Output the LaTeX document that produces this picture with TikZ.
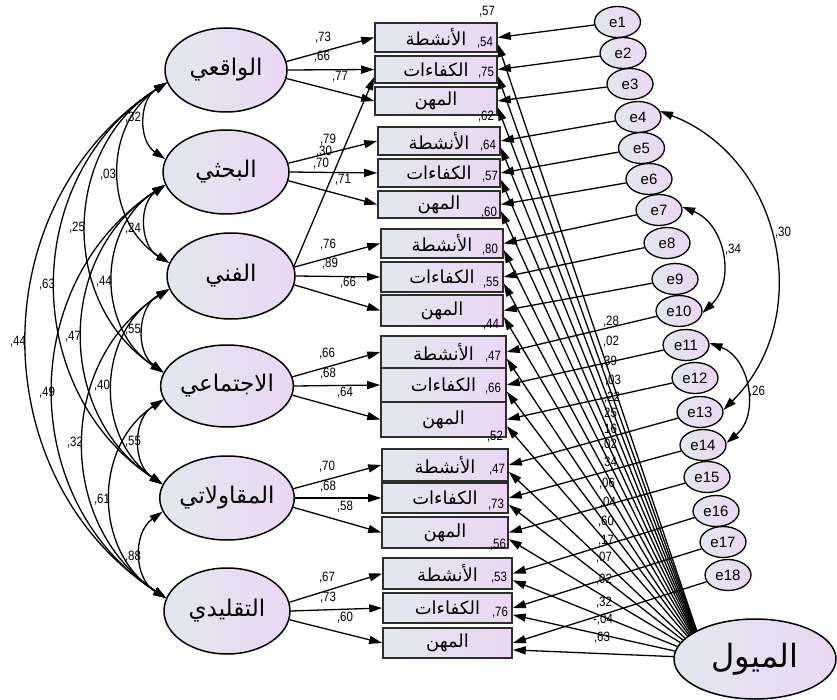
\documentclass[tikz,border=0pt]{standalone}
\usepackage{fontspec}
\TeXXeTstate=1
\newfontfamily\arabicfont[Script=Arabic]{DejaVu Sans}
\newfontfamily\numf[FakeStretch=0.85]{Liberation Sans}
\newfontfamily\efont{Liberation Sans}
\usetikzlibrary{arrows.meta,backgrounds,shapes.geometric}
\definecolor{shL}{RGB}{226,231,239}
\definecolor{shR}{RGB}{236,214,243}
\definecolor{boxline}{RGB}{45,45,45}
\begin{document}
\begin{tikzpicture}[x=1pt,y=-1pt,
  lat/.style={ellipse, draw=black, line width=1.5pt, left color=shL, right color=shR,
    minimum width=126pt, minimum height=84pt, inner sep=0pt,
    font=\arabicfont\fontsize{23}{26}\selectfont},
  meth/.style={ellipse, draw=black, line width=1.5pt, left color=shL, right color=shR,
    minimum width=162pt, minimum height=80pt, inner sep=0pt,
    font=\arabicfont\fontsize{32}{36}\selectfont},
  obs/.style={rectangle, draw=boxline, line width=1.6pt, left color=shL, right color=shR,
    inner sep=0pt, font=\arabicfont\fontsize{18}{20}\selectfont},
  err/.style={ellipse, draw=black, line width=1.3pt, left color=shL, right color=shR,
    minimum width=46pt, minimum height=31pt, inner sep=0pt, font=\efont\fontsize{15}{17}\selectfont},
  num/.style={inner sep=0pt, font=\numf\fontsize{13.5}{15}\selectfont},
  arr/.style={-{Triangle[length=13pt,width=8pt]}, line width=1.3pt},
  cov/.style={{Triangle[length=13pt,width=8pt]}-{Triangle[length=13pt,width=8pt]}, line width=1.3pt}
]
\useasboundingbox (0,0) rectangle (837,700);

% latent factors
\node[lat, minimum width=122pt] (L1) at (226,70) {\beginR الواقعي\endR};
\node[lat] (L2) at (226,172) {\beginR البحثي\endR};
\node[lat, minimum width=128pt, minimum height=86pt] (L3) at (231,276) {\beginR الفني\endR};
\node[lat, minimum width=128pt, minimum height=82pt] (L4) at (227,386) {\beginR الاجتماعي\endR};
\node[lat, minimum width=128pt] (L5) at (227,498) {\beginR المقاولاتي\endR};
\node[lat, minimum height=86pt] (L6) at (227,611) {\beginR التقليدي\endR};

% method factor
\node[meth] (M) at (755,659) {\beginR الميول\endR};
\coordinate (F) at (706,658);

% observed boxes
\node[obs, minimum width=122pt, minimum height=29pt] (b1) at (436,37.5) {\beginR الأنشطة\endR};
\node[obs, minimum width=122pt, minimum height=27pt] (b2) at (436,69.5) {\beginR الكفاءات\endR};
\node[obs, minimum width=122pt, minimum height=28pt] (b3) at (436,101) {\beginR المهن\endR};
\node[obs, minimum width=122pt, minimum height=28pt] (b4) at (439,141) {\beginR الأنشطة\endR};
\node[obs, minimum width=122pt, minimum height=28pt] (b5) at (439,173) {\beginR الكفاءات\endR};
\node[obs, minimum width=122pt, minimum height=27pt] (b6) at (439,204.5) {\beginR المهن\endR};
\node[obs, minimum width=122pt, minimum height=29pt] (b7) at (442,243.5) {\beginR الأنشطة\endR};
\node[obs, minimum width=122pt, minimum height=30pt] (b8) at (442,277) {\beginR الكفاءات\endR};
\node[obs, minimum width=122pt, minimum height=31pt] (b9) at (442,310.5) {\beginR المهن\endR};
\node[obs, minimum width=125pt, minimum height=32pt] (b10) at (443.5,352) {\beginR الأنشطة\endR};
\node[obs, minimum width=125pt, minimum height=34pt] (b11) at (443.5,385) {\beginR الكفاءات\endR};
\node[obs, minimum width=125pt, minimum height=35pt] (b12) at (443.5,419.5) {\beginR المهن\endR};
\node[obs, minimum width=126pt, minimum height=32pt] (b13) at (445,465) {\beginR الأنشطة\endR};
\node[obs, minimum width=126pt, minimum height=30pt] (b14) at (445,498) {\beginR الكفاءات\endR};
\node[obs, minimum width=126pt, minimum height=31pt] (b15) at (445,532.5) {\beginR المهن\endR};
\node[obs, minimum width=129pt, minimum height=31pt] (b16) at (447.5,573.5) {\beginR الأنشطة\endR};
\node[obs, minimum width=129pt, minimum height=30pt] (b17) at (447.5,608) {\beginR الكفاءات\endR};
\node[obs, minimum width=129pt, minimum height=30pt] (b18) at (447.5,643) {\beginR المهن\endR};

% error terms
\node[err] (e1) at (617.5,22) {e1};
\node[err] (e2) at (623,53) {e2};
\node[err] (e3) at (630,84) {e3};
\node[err] (e4) at (638,117) {e4};
\node[err] (e5) at (641.5,148) {e5};
\node[err] (e6) at (649,179) {e6};
\node[err] (e7) at (659,210) {e7};
\node[err] (e8) at (667,243) {e8};
\node[err] (e9) at (675,279) {e9};
\node[err] (e10) at (679,311) {e10};
\node[err] (e11) at (686,345) {e11};
\node[err] (e12) at (695,378) {e12};
\node[err] (e13) at (700,412) {e13};
\node[err] (e14) at (703,445) {e14};
\node[err] (e15) at (707,477) {e15};
\node[err] (e16) at (716,511) {e16};
\node[err] (e17) at (723,542) {e17};
\node[err] (e18) at (728,575) {e18};

\begin{scope}[on background layer]
% method factor paths
\foreach \k in {1,...,18} {\draw[arr] (F) -- (b\k.-6);}
\end{scope}

% error paths
\foreach \k in {1,...,18} {\draw[arr] (e\k) -- (b\k.east);}

% loadings
\draw[arr] (L1.8) -- (b1.west);
\draw[arr] (L1.0) -- (b2.west);
\draw[arr] (L1.-8) -- (b3.west);
\draw[arr] (L2.8) -- (b4.west);
\draw[arr] (L2.0) -- (b5.west);
\draw[arr] (L2.-8) -- (b6.west);
\draw[arr] (L3.8) -- (b7.west);
\draw[arr] (L3.0) -- (b8.west);
\draw[arr] (L3.-8) -- (b9.west);
\draw[arr] (L4.8) -- (b10.west);
\draw[arr] (L4.0) -- (b11.west);
\draw[arr] (L4.-8) -- (b12.west);
\draw[arr] (L5.8) -- (b13.west);
\draw[arr] (L5.0) -- (b14.west);
\draw[arr] (L5.-8) -- (b15.west);
\draw[arr] (L6.8) -- (b16.west);
\draw[arr] (L6.0) -- (b17.west);
\draw[arr] (L6.-8) -- (b18.west);
\draw[arr] (L3.9) -- (b2.187);

% factor covariances
\foreach \i/\j in {1/2,1/3,1/4,1/5,1/6,2/3,2/4,2/5,2/6,3/4,3/5,3/6,4/5,4/6,5/6}
  {\draw[cov] (L\i.192) to[bend right=57, looseness=1.1] (L\j.168);}

% error covariances
\draw[cov] (e4.15) to[bend left=57, looseness=1.1] (e13.5);
\draw[cov] (e7.8) to[bend left=57, looseness=1.1] (e10.-5);
\draw[cov] (e11.5) to[bend left=60, looseness=1.1] (e14.5);

% loading labels
\node[num] (t1) at (323,38) {,73};
\node[num] (t2) at (322,57) {,66};
\node[num] (t3) at (340,77) {,77};
\node[num] (t4) at (328,140) {,79};
\node[num] (t5) at (321,164) {,70};
\node[num] (t6) at (324,152) {,30};
\node[num] (t7) at (343,180) {,71};
\node[num] (t8) at (328,245) {,76};
\node[num] (t9) at (330,264) {,89};
\node[num] (t10) at (348,283) {,66};
\node[num] (t11) at (327,354) {,66};
\node[num] (t12) at (328,374) {,68};
\node[num] (t13) at (345,393) {,64};
\node[num] (t14) at (327,467) {,70};
\node[num] (t15) at (328,487) {,68};
\node[num] (t16) at (345,507) {,58};
\node[num] (t17) at (327,578) {,67};
\node[num] (t18) at (328,598) {,73};
\node[num] (t19) at (345,618) {,60};

% covariance labels (left)
\node[num] (c12) at (133,118) {,32};
\node[num] (c13) at (108,175) {,03};
\node[num] (c14) at (77,228) {,25};
\node[num] (c15) at (47,285) {,63};
\node[num] (c16) at (18,342) {,44};
\node[num] (c23) at (133,229) {,24};
\node[num] (c24) at (104,282) {,44};
\node[num] (c25) at (73,337) {,47};
\node[num] (c26) at (47,393) {,49};
\node[num] (c34) at (133,330) {,55};
\node[num] (c35) at (102,386) {,40};
\node[num] (c36) at (75,443) {,32};
\node[num] (c45) at (133,442) {,55};
\node[num] (c46) at (102,500) {,61};
\node[num] (c56) at (133,557) {,88};

% covariance labels (right)
\node[num] (r1) at (783,233) {,30};
\node[num] (r2) at (733,250) {,34};
\node[num] (r3) at (757,392) {,26};

% squared multiple correlations
\node[num] (s1) at (487,12) {,57};
\node[num] (s2) at (485,43) {,54};
\node[num] (s3) at (486,73) {,75};
\node[num] (s4) at (486,117) {,62};
\node[num] (s5) at (488,146) {,64};
\node[num] (s6) at (490,177) {,57};
\node[num] (s7) at (489,213) {,60};
\node[num] (s8) at (490,250) {,80};
\node[num] (s9) at (491,283) {,55};
\node[num] (s10) at (491,325) {,44};
\node[num] (s11) at (493,357) {,47};
\node[num] (s12) at (493,389) {,66};
\node[num] (s13) at (495,437) {,52};
\node[num] (s14) at (497,470) {,47};
\node[num] (s15) at (496,505) {,73};
\node[num] (s16) at (498,545) {,56};
\node[num] (s17) at (499,578) {,53};
\node[num] (s18) at (500,613) {,76};

% method loadings
\node[num] (m1) at (611,322) {,28};
\node[num] (m2) at (611,342) {,02};
\node[num] (m3) at (609,362) {,39};
\node[num] (m4) at (613,381) {,03};
\node[num] (m5) at (612,398) {,22};
\node[num] (m6) at (609,414) {,25};
\node[num] (m7) at (609,430) {,16};
\node[num] (m8) at (609,445) {,02};
\node[num] (m9) at (609,463) {,34};
\node[num] (m10) at (607,484) {,06};
\node[num] (m11) at (608,503) {,04};
\node[num] (m12) at (606,522) {,60};
\node[num] (m13) at (606,541) {,17};
\node[num] (m14) at (604,558) {,07};
\node[num] (m15) at (604,580) {,02};
\node[num] (m16) at (604,603) {,32};
\node[num] (m17) at (603,620) {-,04};
\node[num] (m18) at (602,638) {,63};
\end{tikzpicture}
\end{document}
